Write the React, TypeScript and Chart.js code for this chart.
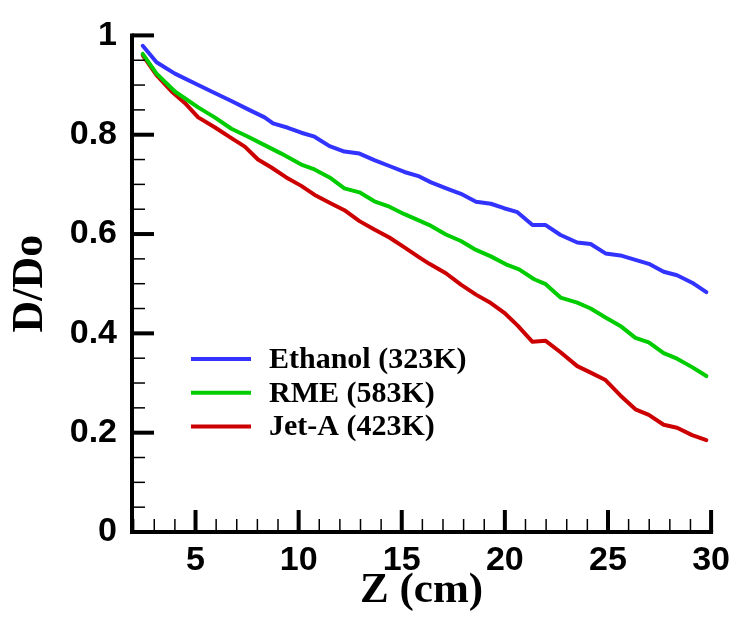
import React, { useEffect, useRef } from "react";
import { Chart, registerables } from "chart.js";

Chart.register(...registerables);

const SERIES_NAMES = ["Ethanol (323K)", "RME (583K)", "Jet-A (423K)"];
const SERIES_COLORS = ["#3333ff", "#00cc00", "#cc0000"];

const ETHANOL_Z = [2.44, 3.11, 4.0, 5.13, 5.93, 6.74, 7.55, 8.35, 8.76, 9.48, 10.13, 10.77, 11.5, 12.22, 12.95, 13.67, 14.4, 15.13, 15.85, 16.42, 17.22, 17.87, 18.6, 19.32, 19.96, 20.61, 21.34, 21.98, 22.7, 23.51, 24.16, 24.88, 25.6, 26.33, 26.98, 27.7, 28.35, 29.08, 29.77];
const ETHANOL_D = [0.979, 0.946, 0.923, 0.9, 0.884, 0.868, 0.851, 0.835, 0.823, 0.814, 0.804, 0.796, 0.777, 0.766, 0.762, 0.749, 0.737, 0.725, 0.716, 0.704, 0.691, 0.681, 0.665, 0.661, 0.652, 0.644, 0.618, 0.618, 0.598, 0.583, 0.58, 0.561, 0.557, 0.548, 0.54, 0.524, 0.517, 0.502, 0.483];

const RME_Z = [2.44, 3.11, 4.0, 5.13, 5.93, 6.74, 7.55, 8.35, 9.16, 10.13, 10.77, 11.5, 12.22, 12.95, 13.67, 14.4, 15.13, 15.85, 16.34, 17.14, 17.87, 18.6, 19.32, 20.05, 20.69, 21.42, 21.98, 22.7, 23.51, 24.16, 24.88, 25.6, 26.33, 26.98, 27.7, 28.35, 29.08, 29.77];
const RME_D = [0.963, 0.923, 0.887, 0.855, 0.835, 0.812, 0.796, 0.779, 0.762, 0.74, 0.73, 0.714, 0.692, 0.684, 0.666, 0.655, 0.64, 0.627, 0.618, 0.599, 0.586, 0.568, 0.555, 0.539, 0.529, 0.509, 0.499, 0.472, 0.462, 0.45, 0.432, 0.415, 0.391, 0.382, 0.36, 0.349, 0.332, 0.314];

const JETA_Z = [2.44, 3.11, 3.84, 4.48, 5.13, 5.93, 6.74, 7.39, 8.03, 8.68, 9.4, 10.13, 10.85, 11.5, 12.22, 12.95, 13.67, 14.4, 15.13, 15.85, 16.34, 17.14, 17.87, 18.6, 19.32, 19.96, 20.61, 21.34, 21.98, 22.7, 23.51, 24.16, 24.88, 25.6, 26.33, 26.98, 27.7, 28.35, 29.08, 29.77];
const JETA_D = [0.96, 0.92, 0.887, 0.864, 0.835, 0.815, 0.793, 0.776, 0.75, 0.734, 0.714, 0.697, 0.677, 0.663, 0.648, 0.626, 0.609, 0.593, 0.573, 0.553, 0.54, 0.521, 0.498, 0.478, 0.461, 0.442, 0.416, 0.383, 0.385, 0.362, 0.334, 0.321, 0.306, 0.275, 0.247, 0.236, 0.216, 0.21, 0.195, 0.185];

const X_TICKS = [5, 10, 15, 20, 25, 30];
const Y_TICKS = [0, 0.2, 0.4, 0.6, 0.8, 1];
const X_MINOR_STEP = 1;
const Y_MINOR_STEP = 0.05;
const X_MIN = 1.92;
const X_MAX = 30;
const Y_MIN = 0;
const Y_MAX = 1;

const SERIES_Z = [ETHANOL_Z, RME_Z, JETA_Z];
const SERIES_D = [ETHANOL_D, RME_D, JETA_D];

const TICK_FONT = { family: "'Liberation Sans', Arial, sans-serif", size: 34, weight: "bold" as const };
const TITLE_FAMILY = "'Liberation Serif', 'Times New Roman', serif";

const axisPlugin = {
  id: "tecAxes",
  afterDraw(chart: any) {
    const { ctx, chartArea, scales } = chart;
    const xs = scales.x;
    const ys = scales.y;
    const left = chartArea.left;
    const bottom = chartArea.bottom;
    ctx.save();
    ctx.strokeStyle = "#000";
    ctx.lineWidth = 1.5;
    for (let v = Math.ceil(X_MIN); v <= X_MAX + 1e-9; v += X_MINOR_STEP) {
      if (v % 5 === 0) continue;
      const px = xs.getPixelForValue(v);
      ctx.beginPath();
      ctx.moveTo(px, bottom);
      ctx.lineTo(px, bottom - 13);
      ctx.stroke();
    }
    for (let i = 1; i < 20; i++) {
      if (i % 4 === 0) continue;
      const py = ys.getPixelForValue(i * Y_MINOR_STEP);
      ctx.beginPath();
      ctx.moveTo(left, py);
      ctx.lineTo(left + 13, py);
      ctx.stroke();
    }
    ctx.lineWidth = 4;
    for (const v of X_TICKS) {
      const px = xs.getPixelForValue(v);
      ctx.beginPath();
      ctx.moveTo(px, bottom);
      ctx.lineTo(px, bottom - 22);
      ctx.stroke();
    }
    for (const v of Y_TICKS) {
      const py = ys.getPixelForValue(v);
      ctx.beginPath();
      ctx.moveTo(left, py);
      ctx.lineTo(left + 22, py);
      ctx.stroke();
    }
    ctx.lineCap = "square";
    ctx.beginPath();
    ctx.moveTo(left, ys.getPixelForValue(Y_MAX));
    ctx.lineTo(left, bottom);
    ctx.lineTo(xs.getPixelForValue(X_MAX), bottom);
    ctx.stroke();

    const legendX = 191;
    const legendY = 359;
    const step = 33.8;
    ctx.lineCap = "butt";
    ctx.font = "bold 30px " + TITLE_FAMILY;
    ctx.textBaseline = "middle";
    ctx.textAlign = "left";
    ctx.fillStyle = "#000";
    SERIES_NAMES.forEach((name, i) => {
      const y = legendY + i * step;
      ctx.strokeStyle = SERIES_COLORS[i];
      ctx.lineWidth = 4;
      ctx.beginPath();
      ctx.moveTo(legendX, y);
      ctx.lineTo(legendX + 60, y);
      ctx.stroke();
      ctx.fillText(name, legendX + 78, y + 1);
    });
    ctx.restore();
  },
};

export default function App() {
  const ref = useRef<HTMLCanvasElement | null>(null);
  useEffect(() => {
    document.body.style.margin = "0";
    const canvas = ref.current;
    if (!canvas) return;
    const chart = new Chart(canvas, {
      type: "line",
      data: {
        datasets: SERIES_NAMES.map((name, i) => ({
          label: name,
          data: SERIES_Z[i].map((z, j) => ({ x: z, y: SERIES_D[i][j] })),
          borderColor: SERIES_COLORS[i],
          backgroundColor: SERIES_COLORS[i],
          borderWidth: 4,
          pointRadius: 0,
          tension: 0,
          borderJoinStyle: "round" as const,
          borderCapStyle: "round" as const,
          fill: false,
        })),
      },
      options: {
        animation: false,
        responsive: false,
        devicePixelRatio: 1,
        layout: { padding: { top: 22.7, right: 25, left: 0, bottom: 0 } },
        plugins: { legend: { display: false }, tooltip: { enabled: false } },
        scales: {
          x: {
            type: "linear",
            min: X_MIN,
            max: X_MAX,
            grid: { display: false, drawTicks: false },
            border: { display: false },
            afterBuildTicks: (scale: any) => {
              scale.ticks = X_TICKS.map((v) => ({ value: v }));
            },
            afterFit: (scale: any) => {
              scale.height = 86;
            },
            ticks: {
              padding: 8,
              color: "#000",
              font: TICK_FONT,
              maxRotation: 0,
            },
            title: {
              display: true,
              text: "Z (cm)",
              color: "#000",
              font: { family: TITLE_FAMILY, size: 43, weight: "bold" },
              padding: { top: 0, bottom: 1 },
            },
          },
          y: {
            type: "linear",
            min: Y_MIN,
            max: Y_MAX,
            grid: { display: false, drawTicks: false },
            border: { display: false },
            afterBuildTicks: (scale: any) => {
              scale.ticks = Y_TICKS.map((v) => ({ value: v }));
            },
            afterFit: (scale: any) => {
              scale.width = 132;
            },
            ticks: {
              padding: 15,
              color: "#000",
              font: TICK_FONT,
              callback: (v: any) => String(parseFloat(Number(v).toFixed(2))),
            },
            title: {
              display: true,
              text: "D/Do",
              color: "#000",
              font: { family: TITLE_FAMILY, size: 44, weight: "bold" },
              padding: { top: 4, bottom: 0 },
            },
          },
        },
      },
      plugins: [axisPlugin],
    });
    return () => chart.destroy();
  }, []);
  return <canvas ref={ref} width={738} height={618} style={{ display: "block" }} />;
}
